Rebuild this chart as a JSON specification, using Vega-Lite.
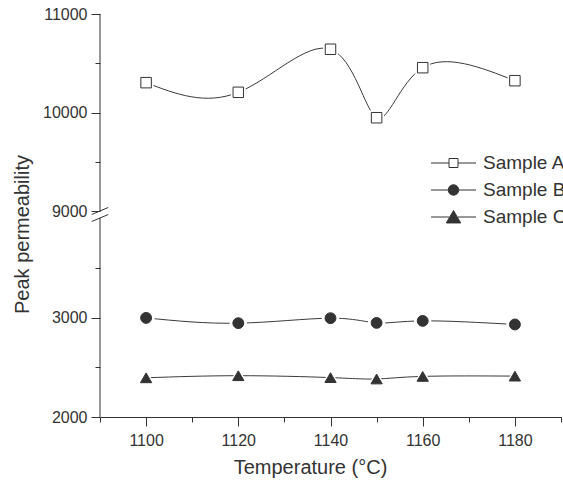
{
  "$schema": "https://vega.github.io/schema/vega-lite/v6.json",
  "autosize": {"type": "none"},
  "padding": {"left": 100, "top": 14, "right": 2, "bottom": 67},
  "width": 461,
  "height": 403,
  "background": "white",
  "config": {
    "view": {"stroke": null},
    "font": "Liberation Sans",
    "axis": {
      "grid": false,
      "domainColor": "#333333",
      "tickColor": "#333333",
      "labelColor": "#333333",
      "titleColor": "#333333",
      "labelFont": "Liberation Sans",
      "titleFont": "Liberation Sans",
      "labelFontSize": 16,
      "titleFontSize": 20,
      "titleFontWeight": "normal",
      "tickWidth": 1,
      "domainWidth": 1
    },
    "legend": {
      "labelFont": "Liberation Sans",
      "labelColor": "#333333"
    }
  },
  "datasets": {
    "series": [
      {"t": 1100, "v": 10303, "s": "Sample A"},
      {"t": 1120, "v": 10205, "s": "Sample A"},
      {"t": 1140, "v": 10642, "s": "Sample A"},
      {"t": 1150, "v": 9947, "s": "Sample A"},
      {"t": 1160, "v": 10455, "s": "Sample A"},
      {"t": 1180, "v": 10323, "s": "Sample A"},
      {"t": 1100, "v": 2996, "s": "Sample B"},
      {"t": 1120, "v": 2943, "s": "Sample B"},
      {"t": 1140, "v": 2993, "s": "Sample B"},
      {"t": 1150, "v": 2946, "s": "Sample B"},
      {"t": 1160, "v": 2966, "s": "Sample B"},
      {"t": 1180, "v": 2930, "s": "Sample B"},
      {"t": 1100, "v": 2394, "s": "Sample C"},
      {"t": 1120, "v": 2415, "s": "Sample C"},
      {"t": 1140, "v": 2396, "s": "Sample C"},
      {"t": 1150, "v": 2382, "s": "Sample C"},
      {"t": 1160, "v": 2408, "s": "Sample C"},
      {"t": 1180, "v": 2411, "s": "Sample C"}
    ],
    "axisParts": [
      {"x": 1090, "x2": 1090, "y": 2000, "y2": 4000},
      {"x": 1090, "x2": 1090, "y": 9000, "y2": 11000},
      {"x": 1088.2, "x2": 1091.8, "y": 6500, "y2": 9036},
      {"x": 1088.2, "x2": 1091.8, "y": 3965, "y2": 6500}
    ]
  },
  "resolve": {
    "axis": {"x": "independent", "y": "independent"},
    "scale": {"size": "independent", "shape": "independent", "fill": "independent", "stroke": "independent"}
  },
  "layer": [
    {
      "data": {"name": "axisParts"},
      "mark": {"type": "rule", "color": "#333333", "strokeWidth": 1},
      "encoding": {
        "x": {"field": "x", "type": "quantitative", "axis": null,
              "scale": {"domain": [1090, 1190], "nice": false, "zero": false}},
        "x2": {"field": "x2"},
        "y": {"field": "y", "type": "quantitative", "axis": null,
              "scale": {"domain": [2000, 4000, 9000, 11000], "range": [403, 204, 197, 0], "nice": false, "zero": false}},
        "y2": {"field": "y2"}
      }
    },
    {
      "data": {"name": "series"},
      "mark": {"type": "line", "interpolate": "natural", "color": "#3a3a3a", "strokeWidth": 1},
      "encoding": {
        "x": {"field": "t", "type": "quantitative",
              "axis": {"orient": "bottom", "values": [1100, 1120, 1140, 1160, 1180], "format": "d",
                       "tickSize": 9, "labelPadding": 6, "title": "Temperature (°C)",
                       "titleX": 210, "titleY": 56, "titleBaseline": "alphabetic", "titleAlign": "center",
                       "titleAnchor": null, "domain": true}},
        "y": {"field": "v", "type": "quantitative",
              "axis": {"orient": "left", "values": [2000, 3000, 9000, 10000, 11000], "format": "d",
                       "tickSize": 9, "labelPadding": 4, "domain": false, "title": "Peak permeability",
                       "titleX": -72, "titleY": 220, "titleBaseline": "alphabetic", "titleAlign": "center",
                       "titleAngle": -90}},
        "detail": {"field": "s", "type": "nominal"}
      }
    },
    {
      "data": {"name": "series"},
      "mark": {"type": "point", "filled": true, "fill": "white", "strokeWidth": 0, "opacity": 1},
      "encoding": {
        "x": {"field": "t", "type": "quantitative",
              "axis": {"orient": "bottom", "values": [1090, 1110, 1130, 1150, 1170, 1190],
                       "tickSize": 5, "labels": false, "domain": false, "title": null}},
        "y": {"field": "v", "type": "quantitative",
              "axis": {"orient": "left", "values": [2500, 3500, 9500, 10500],
                       "tickSize": 5, "labels": false, "domain": false, "title": null}},
        "shape": {"field": "s", "type": "nominal", "legend": null,
                  "scale": {"domain": ["Sample A", "Sample B", "Sample C"], "range": ["square", "circle", "triangle-up"]}},
        "size": {"field": "s", "type": "nominal", "legend": null,
                 "scale": {"domain": ["Sample A", "Sample B", "Sample C"], "range": [220, 380, 620]}}
      }
    },
    {
      "data": {"name": "series"},
      "mark": {"type": "point", "filled": true, "stroke": "#333333", "strokeWidth": 1, "opacity": 1},
      "encoding": {
        "x": {"field": "t", "type": "quantitative", "axis": null},
        "y": {"field": "v", "type": "quantitative", "axis": null},
        "shape": {"field": "s", "type": "nominal", "legend": null,
                  "scale": {"domain": ["Sample A", "Sample B", "Sample C"], "range": ["square", "circle", "triangle-up"]}},
        "fill": {"field": "s", "type": "nominal", "legend": null,
                 "scale": {"domain": ["Sample A", "Sample B", "Sample C"], "range": ["white", "#333333", "#333333"]}},
        "size": {"field": "s", "type": "nominal", "legend": null,
                 "scale": {"domain": ["Sample A", "Sample B", "Sample C"], "range": [110, 127, 250]}}
      }
    },
    {
      "data": {"name": "series"},
      "transform": [{"filter": "false"}],
      "mark": {"type": "point", "filled": true, "strokeWidth": 1, "opacity": 1},
      "encoding": {
        "x": {"field": "t", "type": "quantitative", "axis": null},
        "y": {"field": "v", "type": "quantitative", "axis": null},
        "shape": {"field": "s", "type": "nominal",
                  "scale": {"domain": ["Sample A", "Sample B", "Sample C"],
                            "range": ["M-2.5,0H-0.5M0.5,0H2.5M-0.5,-0.5H0.5V0.5H-0.5Z",
                                      "M-2.5,0H-0.58M0.58,0H2.5M-0.58,0A0.58,0.58,0,1,1,0.58,0A0.58,0.58,0,1,1,-0.58,0Z",
                                      "M-2.5,0H-0.5M0.5,0H2.5M0,-0.72L0.8,0.66H-0.8Z"]},
                  "legend": {
                    "title": null,
                    "orient": "none",
                    "legendX": 344,
                    "legendY": 139.5,
                    "padding": 0,
                    "symbolSize": 324,
                    "symbolStrokeWidth": 1,
                    "symbolOpacity": 1,
                    "labelOffset": 20,
                    "rowPadding": 7,
                    "labelFontSize": 19,
                    "labelColor": "#333333"
                  }},
        "fill": {"field": "s", "type": "nominal",
                 "scale": {"domain": ["Sample A", "Sample B", "Sample C"], "range": ["white", "#333333", "#333333"]},
                 "legend": {
                    "title": null,
                    "orient": "none",
                    "legendX": 344,
                    "legendY": 139.5,
                    "padding": 0,
                    "symbolSize": 324,
                    "symbolStrokeWidth": 1,
                    "symbolOpacity": 1,
                    "labelOffset": 20,
                    "rowPadding": 7,
                    "labelFontSize": 19,
                    "labelColor": "#333333"
                  }},
        "stroke": {"field": "s", "type": "nominal",
                 "scale": {"domain": ["Sample A", "Sample B", "Sample C"], "range": ["#333333", "#333333", "#333333"]},
                 "legend": {
                    "title": null,
                    "orient": "none",
                    "legendX": 344,
                    "legendY": 139.5,
                    "padding": 0,
                    "symbolSize": 324,
                    "symbolStrokeWidth": 1,
                    "symbolOpacity": 1,
                    "labelOffset": 20,
                    "rowPadding": 7,
                    "labelFontSize": 19,
                    "labelColor": "#333333"
                  }}
      }
    }
  ]
}
